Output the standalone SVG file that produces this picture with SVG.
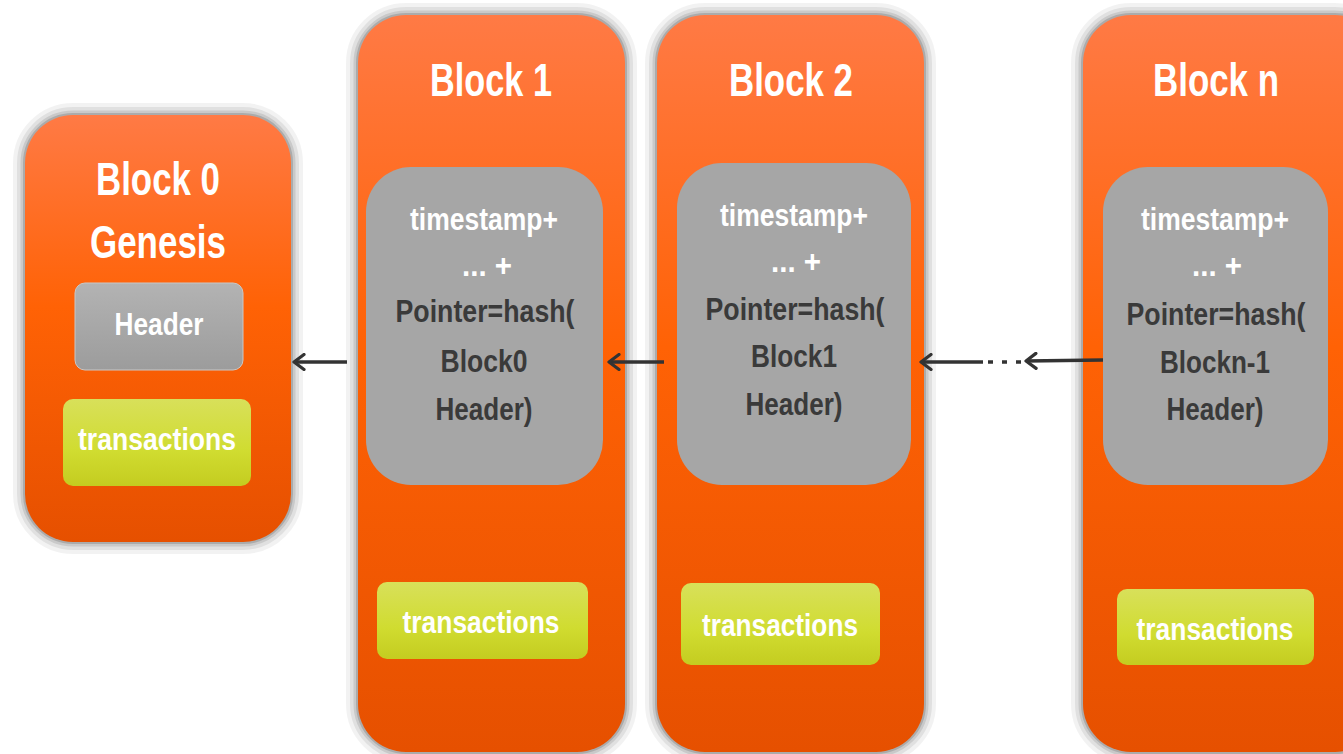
<svg xmlns="http://www.w3.org/2000/svg" width="1343" height="754" viewBox="0 0 1343 754">
<defs>
<linearGradient id="og" x1="0" y1="0" x2="0" y2="1">
<stop offset="0" stop-color="#FF7A45"/>
<stop offset="0.45" stop-color="#FF6205"/>
<stop offset="1" stop-color="#E65000"/>
</linearGradient>
<linearGradient id="gg" x1="0" y1="0" x2="0" y2="1">
<stop offset="0" stop-color="#B3B3B3"/>
<stop offset="1" stop-color="#9C9C9C"/>
</linearGradient>
<linearGradient id="yg" x1="0" y1="0" x2="0" y2="1">
<stop offset="0" stop-color="#D8E05A"/>
<stop offset="0.6" stop-color="#D0DC30"/>
<stop offset="1" stop-color="#C4CC20"/>
</linearGradient>
<marker id="ah" markerWidth="16" markerHeight="18" viewBox="0 0 16 18" refX="14" refY="9" orient="auto" markerUnits="userSpaceOnUse">
<path d="M4,1.5 L14,9 L4,16.5" fill="none" stroke="#333" stroke-width="3.2" stroke-linecap="round" stroke-linejoin="round"/>
</marker>
<style>
.blk{fill:url(#og)}
.h1{fill:none;stroke:#000;stroke-opacity:0.05;stroke-width:24}
.h2{fill:none;stroke:#000;stroke-opacity:0.07;stroke-width:16}
.h3{fill:none;stroke:#000;stroke-opacity:0.1;stroke-width:9}
.h4{fill:none;stroke:#000;stroke-opacity:0.15;stroke-width:4}
.gray{fill:#A6A6A6}
.hdr{fill:url(#gg);stroke:#C8C8C8;stroke-width:1}
.tx{fill:url(#yg)}
text{font-family:"Liberation Sans",Arial,sans-serif;font-weight:bold;text-anchor:middle}
.title{fill:#fff;font-size:46px}
.w{fill:#fff;font-size:32px}
.d{fill:#3A3A3A;font-size:32px}
.conn{stroke:#333;stroke-width:3.5;fill:none}
</style>
<rect id="r0" x="25" y="115" width="266" height="427" rx="48"/>
<rect id="r1" x="358" y="15" width="267" height="737" rx="48"/>
<rect id="r2" x="657" y="15" width="267" height="737" rx="48"/>
<rect id="rn" x="1083" y="15" width="300" height="737" rx="48"/>
</defs>
<rect width="1343" height="754" fill="#fff"/>

<g id="block0">
<use href="#r0" class="h1"/><use href="#r0" class="h2"/><use href="#r0" class="h3"/><use href="#r0" class="h4"/>
<use href="#r0" class="blk"/>
<text class="title" x="158" y="195" textLength="124" lengthAdjust="spacingAndGlyphs">Block 0</text>
<text class="title" x="158" y="258" textLength="136" lengthAdjust="spacingAndGlyphs">Genesis</text>
<rect class="hdr" x="75" y="283" width="168" height="87" rx="10"/>
<text class="w" x="159" y="335" textLength="89" lengthAdjust="spacingAndGlyphs">Header</text>
<rect class="tx" x="63" y="399" width="188" height="87" rx="10"/>
<text class="w" x="157" y="450" textLength="158" lengthAdjust="spacingAndGlyphs">transactions</text>
</g>

<g id="block1">
<use href="#r1" class="h1"/><use href="#r1" class="h2"/><use href="#r1" class="h3"/><use href="#r1" class="h4"/>
<use href="#r1" class="blk"/>
<text class="title" x="491" y="96" textLength="122" lengthAdjust="spacingAndGlyphs">Block 1</text>
<rect class="gray" x="366" y="167" width="237" height="318" rx="45"/>
<text class="w" x="484" y="230" textLength="148" lengthAdjust="spacingAndGlyphs">timestamp+</text>
<text class="w" x="487" y="276" textLength="50" lengthAdjust="spacingAndGlyphs">... +</text>
<text class="d" x="485" y="322" textLength="179" lengthAdjust="spacingAndGlyphs">Pointer=hash(</text>
<text class="d" x="484" y="372" textLength="87" lengthAdjust="spacingAndGlyphs">Block0</text>
<text class="d" x="484" y="420" textLength="97" lengthAdjust="spacingAndGlyphs">Header)</text>
<rect class="tx" x="377" y="582" width="211" height="77" rx="10"/>
<text class="w" x="481" y="633" textLength="157" lengthAdjust="spacingAndGlyphs">transactions</text>
</g>

<g id="block2">
<use href="#r2" class="h1"/><use href="#r2" class="h2"/><use href="#r2" class="h3"/><use href="#r2" class="h4"/>
<use href="#r2" class="blk"/>
<text class="title" x="791" y="96" textLength="124" lengthAdjust="spacingAndGlyphs">Block 2</text>
<rect class="gray" x="677" y="163" width="234" height="322" rx="45"/>
<text class="w" x="794" y="226" textLength="148" lengthAdjust="spacingAndGlyphs">timestamp+</text>
<text class="w" x="796" y="272" textLength="50" lengthAdjust="spacingAndGlyphs">... +</text>
<text class="d" x="795" y="320" textLength="179" lengthAdjust="spacingAndGlyphs">Pointer=hash(</text>
<text class="d" x="794" y="367" textLength="86" lengthAdjust="spacingAndGlyphs">Block1</text>
<text class="d" x="794" y="415" textLength="97" lengthAdjust="spacingAndGlyphs">Header)</text>
<rect class="tx" x="681" y="583" width="199" height="82" rx="10"/>
<text class="w" x="780" y="636" textLength="156" lengthAdjust="spacingAndGlyphs">transactions</text>
</g>

<g id="blockn">
<use href="#rn" class="h1"/><use href="#rn" class="h2"/><use href="#rn" class="h3"/><use href="#rn" class="h4"/>
<use href="#rn" class="blk"/>
<text class="title" x="1216" y="96" textLength="126" lengthAdjust="spacingAndGlyphs">Block n</text>
<rect class="gray" x="1103" y="167" width="225" height="318" rx="45"/>
<text class="w" x="1215" y="230" textLength="148" lengthAdjust="spacingAndGlyphs">timestamp+</text>
<text class="w" x="1217" y="276" textLength="50" lengthAdjust="spacingAndGlyphs">... +</text>
<text class="d" x="1216" y="325" textLength="179" lengthAdjust="spacingAndGlyphs">Pointer=hash(</text>
<text class="d" x="1215" y="373" textLength="110" lengthAdjust="spacingAndGlyphs">Blockn-1</text>
<text class="d" x="1215" y="420" textLength="97" lengthAdjust="spacingAndGlyphs">Header)</text>
<rect class="tx" x="1117" y="589" width="197" height="76" rx="10"/>
<text class="w" x="1215" y="640" textLength="157" lengthAdjust="spacingAndGlyphs">transactions</text>
</g>

<g id="connectors">
<line class="conn" x1="347" y1="362" x2="294" y2="362" marker-end="url(#ah)"/>
<line class="conn" x1="664" y1="362" x2="609" y2="362" marker-end="url(#ah)"/>
<line class="conn" x1="1103" y1="360" x2="1026" y2="361" marker-end="url(#ah)"/>
<line class="conn" x1="1021" y1="362" x2="985" y2="362" stroke-dasharray="5,9"/>
<line class="conn" x1="983" y1="362" x2="921" y2="362" marker-end="url(#ah)"/>
</g>
</svg>
